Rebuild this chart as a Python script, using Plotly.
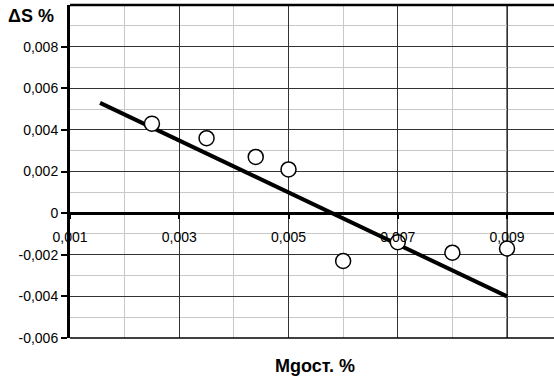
import plotly.graph_objects as go

# Data
mg_x = [0.0025, 0.0035, 0.0044, 0.0050, 0.0060, 0.0070, 0.0080, 0.0090]
ds_y = [0.0043, 0.0036, 0.0027, 0.0021, -0.0023, -0.0014, -0.0019, -0.0017]
trend_x = [0.00155, 0.0090]
trend_y = [0.0053, -0.0040]

x_tickvals = [0.001, 0.003, 0.005, 0.007, 0.009]
x_ticktext = ["0,001", "0,003", "0,005", "0,007", "0,009"]
y_tickvals = [-0.006, -0.004, -0.002, 0, 0.002, 0.004, 0.006, 0.008]
y_ticktext = ["-0,006", "-0,004", "-0,002", "0", "0,002", "0,004", "0,006", "0,008"]

x_range = [0.001, 0.00986]
y_range = [-0.006, 0.010]

fig = go.Figure()
fig.add_trace(go.Scatter(x=trend_x, y=trend_y, mode="lines",
                         line=dict(color="black", width=4), showlegend=False))
fig.add_trace(go.Scatter(x=mg_x, y=ds_y, mode="markers",
                         marker=dict(symbol="circle", size=15, color="white",
                                     line=dict(color="black", width=1.5)),
                         showlegend=False))

zero_pos = (0 - y_range[0]) / (y_range[1] - y_range[0])

fig.update_layout(
    width=554, height=382,
    margin=dict(l=70, r=0, t=5, b=44, autoexpand=False),
    paper_bgcolor="white", plot_bgcolor="white",
    font=dict(family="Liberation Sans, Arial", size=14, color="black"),
    xaxis=dict(range=x_range, tickvals=x_tickvals, ticktext=x_ticktext,
               anchor="free", position=zero_pos, automargin=False,
               showline=True, linecolor="black", linewidth=3,
               ticks="outside", ticklen=4, tickwidth=2, tickcolor="black",
               ticklabelstandoff=6,
               showgrid=True, gridcolor="#333333", gridwidth=1,
               minor=dict(dtick=0.001, tick0=0.0, showgrid=True,
                          gridcolor="#c8c8c8", gridwidth=1, ticks=""),
               zeroline=False, tickfont=dict(size=14)),
    yaxis=dict(range=y_range, tickvals=y_tickvals, ticktext=y_ticktext,
               automargin=False,
               showline=True, linecolor="black", linewidth=3,
               ticks="outside", ticklen=6, tickwidth=2, tickcolor="black",
               showgrid=True, gridcolor="#333333", gridwidth=1,
               minor=dict(dtick=0.001, tick0=0.001, showgrid=True,
                          gridcolor="#c8c8c8", gridwidth=1, ticks=""),
               zeroline=False, tickfont=dict(size=14)),
    shapes=[
        dict(type="line", xref="paper", yref="paper", x0=0, x1=1, y0=1, y1=1,
             line=dict(color="black", width=2.5)),
        dict(type="line", xref="paper", yref="paper", x0=0, x1=1, y0=0, y1=0,
             line=dict(color="black", width=1.5)),
        dict(type="line", xref="x", yref="paper", x0=0.009, x1=0.009, y0=0, y1=1,
             line=dict(color="#777777", width=2), layer="below"),
    ],
    annotations=[
        dict(text="<b>ΔS %</b>", xref="paper", yref="paper", x=-0.08, y=0.967,
             xanchor="center", yanchor="middle", showarrow=False,
             font=dict(size=18)),
        dict(text="<b>Mgост. %</b>", xref="paper", yref="paper", x=0.506, y=-0.084,
             xanchor="center", yanchor="middle", showarrow=False,
             font=dict(size=18)),
    ],
)

fig.write_html("out.html", config={"displayModeBar": False},
               post_script="document.body.style.margin='0';")
